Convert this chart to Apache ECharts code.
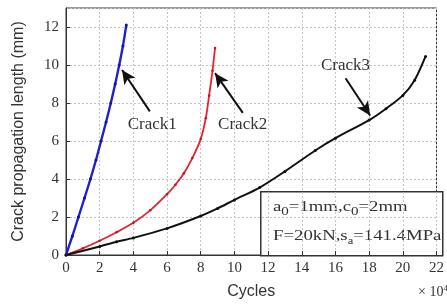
<!DOCTYPE html>
<html>
<head>
<meta charset="utf-8">
<script src="https://cdn.jsdelivr.net/npm/echarts@6/dist/echarts.min.js"></script>
<style>
  html, body { margin: 0; padding: 0; background: #fff; }
  #chart { width: 447px; height: 305px; }
</style>
</head>
<body>
<div id="chart"></div>
<script>
// cycles (x 10^4) and crack length (mm)
const crack1X = [0, 0.38, 0.74, 1.1, 1.45, 1.78, 2.08, 2.38, 2.66, 2.92, 3.16, 3.38, 3.58];
const crack1Y = [0, 1, 2, 3, 4, 5, 6, 7, 8, 9, 10, 11, 12.1];

const crack2X = [0, 1, 2, 3, 4, 5, 6, 6.5, 7, 7.5, 8, 8.3, 8.5, 8.7, 8.85];
const crack2Y = [0, 0.35, 0.75, 1.2, 1.7, 2.35, 3.2, 3.7, 4.3, 5.1, 6.1, 7.2, 8.4, 9.7, 10.9];

const crack3X = [0, 2, 3, 4, 6, 8, 9, 10, 11.5, 13, 14.8, 16, 18, 19, 20, 20.7, 21.35];
const crack3Y = [0, 0.45, 0.7, 0.9, 1.4, 2.05, 2.45, 2.9, 3.55, 4.4, 5.5, 6.15, 7.1, 7.7, 8.4, 9.2, 10.45];

// annotations in data coordinates: [tail, tip] and label position
const arrows = [
  [[4.98, 7.56], [3.33, 9.74]],
  [[10.5, 7.48], [8.85, 9.57]],
  [[16.6, 9.3], [18.06, 7.34]]
];
const labels = [
  { name: 'Crack1', at: [5.12, 6.87] },
  { name: 'Crack2', at: [10.49, 6.87] },
  { name: 'Crack3', at: [16.6, 9.95] }
];

const serif = '"Liberation Serif", "Times New Roman", serif';
const sans = '"Liberation Sans", Arial, sans-serif';

function pairs(xs, ys) {
  return xs.map((x, i) => [x, ys[i]]);
}

const myChart = echarts.init(document.getElementById('chart'));

const option = {
  animation: false,
  grid: {
    left: 66,
    right: 3,
    top: 8,
    bottom: 48,
    show: true,
    borderColor: '#333',
    borderWidth: 1
  },
  xAxis: {
    type: 'value',
    min: 0,
    max: 22,
    interval: 2,
    name: 'Cycles',
    nameLocation: 'middle',
    nameGap: 29,
    nameTextStyle: { fontFamily: sans, fontSize: 16, color: '#333' },
    axisLine: { lineStyle: { color: '#333' } },
    axisTick: { inside: true, length: 4, lineStyle: { color: '#333' } },
    axisLabel: { fontFamily: serif, fontSize: 15, color: '#333', margin: 6, showMaxLabel: true },
    splitLine: { lineStyle: { color: '#c4c4c4', type: [2, 2] } }
  },
  yAxis: {
    type: 'value',
    min: 0,
    max: 13,
    interval: 2,
    name: 'Crack propagation length (mm)',
    nameLocation: 'middle',
    nameGap: 39,
    nameTextStyle: { fontFamily: sans, fontSize: 16, color: '#333' },
    axisLine: { lineStyle: { color: '#333' } },
    axisTick: { inside: true, length: 4, lineStyle: { color: '#333' } },
    axisLabel: { fontFamily: serif, fontSize: 15, color: '#333', margin: 7, showMaxLabel: false },
    splitLine: { lineStyle: { color: '#c4c4c4', type: [2, 2] } }
  },
  series: [
    {
      name: 'Crack1',
      type: 'line',
      data: pairs(crack1X, crack1Y),
      smooth: 0.3,
      symbol: 'circle',
      symbolSize: 3,
      lineStyle: { color: '#1f1fd6', width: 2.4 },
      itemStyle: { color: '#14148f' }
    },
    {
      name: 'Crack2',
      type: 'line',
      data: pairs(crack2X, crack2Y),
      smooth: 0.3,
      symbol: 'circle',
      symbolSize: 2.5,
      lineStyle: { color: '#e5242e', width: 1.8 },
      itemStyle: { color: '#b01a22' }
    },
    {
      name: 'Crack3',
      type: 'line',
      data: pairs(crack3X, crack3Y),
      smooth: 0.3,
      symbol: 'circle',
      symbolSize: 3,
      lineStyle: { color: '#111', width: 2 },
      itemStyle: { color: '#111' },
      markLine: {
        silent: true,
        symbol: ['none', 'arrow'],
        symbolSize: [10, 14],
        label: { show: false },
        lineStyle: { color: '#111', width: 2, type: 'solid' },
        data: arrows.map(a => [{ coord: a[0] }, { coord: a[1] }])
      },
      markPoint: {
        silent: true,
        symbol: 'rect',
        symbolSize: 1,
        itemStyle: { color: 'rgba(0,0,0,0)' },
        label: {
          show: true,
          position: 'inside',
          formatter: p => p.name,
          fontFamily: serif,
          fontSize: 17,
          color: '#333'
        },
        data: labels.map(l => ({ name: l.name, coord: l.at }))
      }
    }
  ],
  graphic: [
    {
      type: 'rect',
      left: 260,
      top: 191,
      shape: { width: 182, height: 64 },
      style: { fill: '#fff', stroke: '#333', lineWidth: 1.5 }
    },
    {
      type: 'text',
      left: 273,
      top: 200,
      scaleX: 1.25,
      style: {
        text: 'a{s|0}=1mm,c{s|0}=2mm',
        rich: { s: { fontSize: 12, padding: [9, 0, 0, 0], fontFamily: serif } },
        fontFamily: serif,
        fontSize: 15,
        fill: '#333'
      }
    },
    {
      type: 'text',
      left: 273,
      top: 229,
      scaleX: 1.25,
      style: {
        text: 'F=20kN,s{s|a}=141.4MPa',
        rich: { s: { fontSize: 10, padding: [9, 0, 0, 0], fontFamily: serif } },
        fontFamily: serif,
        fontSize: 15,
        fill: '#333'
      }
    },
    {
      type: 'text',
      left: 418,
      top: 284,
      style: {
        text: '× 10{p|4}',
        rich: { p: { fontSize: 9, padding: [0, 0, 8, 0], fontFamily: serif } },
        fontFamily: serif,
        fontSize: 14,
        fill: '#333'
      }
    }
  ]
};

myChart.setOption(option);
</script>
</body>
</html>
